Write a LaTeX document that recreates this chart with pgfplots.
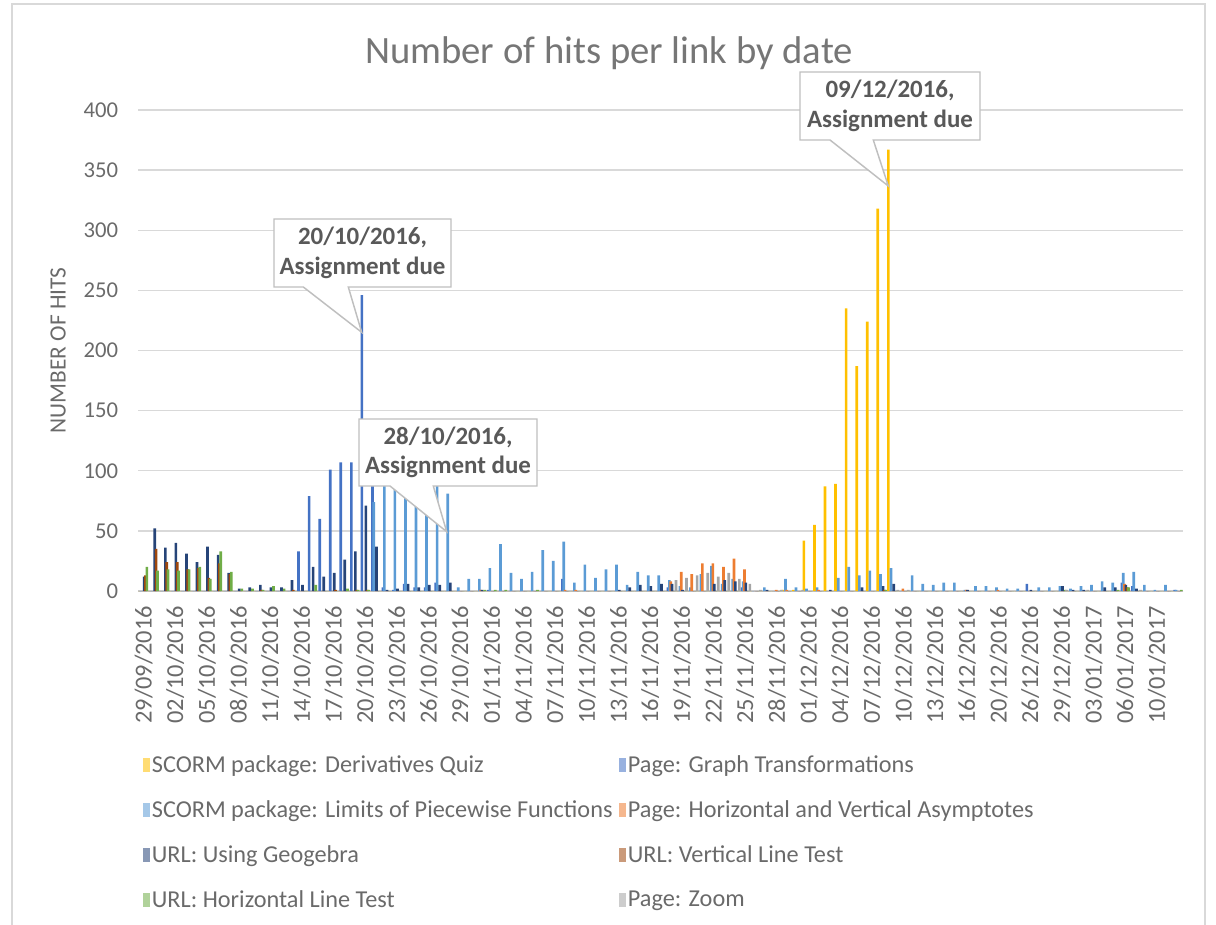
\documentclass[border=0pt]{standalone}
\usepackage{pgfplots}
\pgfplotsset{compat=1.18}
\usepackage{pgfplotstable}
\usepackage{fontspec}
\setmainfont{Carlito}

\definecolor{txt}{HTML}{6A6A6A}
\definecolor{ttl}{HTML}{767676}
\definecolor{ctx}{HTML}{595959}
\definecolor{gridc}{HTML}{D9D9D9}
\definecolor{boxc}{HTML}{BFBFBF}
\definecolor{cY}{HTML}{FFC000}
\definecolor{cB}{HTML}{4472C4}
\definecolor{cL}{HTML}{5B9BD5}
\definecolor{cO}{HTML}{ED7D31}
\definecolor{cN}{HTML}{264478}
\definecolor{cR}{HTML}{9E480E}
\definecolor{cG}{HTML}{70AD47}
\definecolor{cZ}{HTML}{A5A5A5}

% hits per day, one column per link (x = day index, only days with hits)
\pgfplotstableread{
x  Y   B   L   O  N  R  G  Z
0  0   0   0   0  12 13 20 0
1  0   0   0   0  52 35 17 0
2  0   0   0   0  36 24 18 0
3  0   0   0   0  40 24 17 0
4  0   0   0   0  31 18 18 0
5  0   0   0   0  24 19 20 0
6  0   0   0   0  37 11 10 0
7  0   0   0   0  30 23 33 0
8  0   0   0   0  15 14 16 0
9  0   0   0   0  2  0  2  0
10 0   0   0   0  3  0  2  0
11 0   0   0   0  5  1  1  0
12 0   0   0   0  3  0  4  0
13 0   0   0   0  3  0  2  0
14 0   0   0   0  9  1  0  0
15 0   33  0   0  5  0  0  0
16 0   79  0   0  20 0  5  0
17 0   60  0   0  12 0  0  0
18 0   101 0   0  15 1  0  0
19 0   107 0   0  26 0  2  0
20 0   107 0   0  33 1  1  0
21 0   246 0   0  71 1  1  0
22 0   92  74  0  37 0  0  0
23 0   3   100 0  1  0  0  0
24 0   1   95  0  2  0  0  0
25 0   6   92  0  6  0  0  0
26 0   3   90  0  3  0  0  0
27 0   3   90  0  5  0  0  0
28 0   7   93  0  5  0  0  0
29 0   0   81  0  7  0  0  0
30 0   0   3   0  0  0  0  0
31 0   0   10  0  0  0  0  0
32 0   0   10  1  1  0  1  0
33 0   1   19  0  0  0  1  0
34 0   0   39  0  0  0  1  0
35 0   0   15  0  0  0  0  0
36 0   0   10  0  0  0  0  0
37 0   0   16  0  0  0  1  0
38 0   0   34  0  0  0  0  0
39 0   0   25  0  0  0  0  0
40 0   10  41  1  0  0  0  0
41 0   0   7   1  0  0  0  0
42 0   0   22  0  0  0  0  0
43 0   0   11  0  0  0  0  0
44 0   0   18  0  0  0  0  0
45 0   0   22  0  1  0  0  0
46 0   0   5   0  3  0  0  0
47 0   0   16  0  5  0  0  0
48 0   0   13  0  4  0  0  0
49 0   0   13  0  6  0  0  0
50 0   3   9   8  6  0  0  9
51 0   0   4   16 1  0  0  11
52 0   0   3   14 0  0  0  13
53 0   0   14  23 0  0  0  15
54 0   0   21  23 6  0  0  12
55 0   0   6   20 9  0  0  15
56 0   0   10  27 8  0  0  10
57 0   3   8   18 7  0  0  6
58 0   0   0   0  0  0  0  1
59 0   0   3   0  1  0  0  0
60 0   0   0   1  0  0  0  1
61 1   0   10  1  0  0  0  0
62 1   0   3   0  0  0  0  1
63 42  0   2   0  0  0  0  0
64 55  0   3   1  0  0  0  0
65 87  0   0   0  1  0  0  0
66 89  0   11  0  0  0  0  0
67 235 0   20  0  0  0  0  0
68 187 0   13  0  3  0  0  0
69 224 0   17  0  0  0  0  0
70 318 0   14  0  4  1  1  0
71 367 0   19  0  6  0  0  1
72 0   0   0   2  0  0  0  1
73 0   0   13  0  0  0  0  0
74 0   0   6   0  0  0  0  0
75 0   0   5   0  0  0  0  0
76 0   0   7   0  0  0  0  0
77 0   0   7   0  0  0  0  0
78 0   0   1   1  1  0  0  0
79 0   0   4   0  0  0  0  0
80 0   0   4   0  0  0  0  0
81 0   0   3   1  0  0  0  0
82 0   0   2   0  0  0  0  0
83 0   0   2   0  0  0  0  0
84 0   6   0   0  1  0  0  0
85 0   0   3   0  0  0  0  0
86 0   0   3   0  0  0  0  0
87 0   0   4   0  4  0  1  1
88 0   0   2   0  1  0  0  0
89 0   0   4   0  1  0  0  1
90 0   0   5   0  0  0  0  0
91 0   0   8   0  3  0  0  0
92 0   0   7   0  3  0  1  0
93 0   7   15  6  5  3  3  0
94 0   4   16  0  2  0  0  1
95 0   0   5   0  0  0  0  0
96 0   0   1   0  0  0  0  0
97 0   0   5   0  0  0  0  0
98 0   1   1   0  0  0  1  0
}\hits

% bar style plus a bordered legend square
\pgfplotsset{
  hb/.style={fill=#1, draw=none,
    legend image post style={fill=#1!55!white, draw=#1!80!black, line width=0.8pt}},
}

\begin{document}
\begin{tikzpicture}
\useasboundingbox (0,0) rectangle (912pt,-693pt);
\begin{axis}[
    at={(103.725pt,-443.25pt)}, anchor=south west,
    scale only axis, width=783.75pt, height=360.75pt,
    xmin=-0.5, xmax=98.5, ymin=0, ymax=400,
    ybar, bar width=2pt,
    axis line style={draw=none},
    major tick length=0pt,
    ytick={0,50,...,400},
    ymajorgrids, grid style={gridc, line width=1.1pt},
    extra y ticks={0}, extra y tick labels={},
    extra y tick style={grid style={gridc!80!gray, line width=1.6pt}},
    xtick={0,3,...,96},
    xticklabels={29/09/2016,02/10/2016,05/10/2016,08/10/2016,11/10/2016,14/10/2016,
      17/10/2016,20/10/2016,23/10/2016,26/10/2016,29/10/2016,01/11/2016,04/11/2016,
      07/11/2016,10/11/2016,13/11/2016,16/11/2016,19/11/2016,22/11/2016,25/11/2016,
      28/11/2016,01/12/2016,04/12/2016,07/12/2016,10/12/2016,13/12/2016,16/12/2016,
      20/12/2016,26/12/2016,29/12/2016,03/01/2017,06/01/2017,10/01/2017},
    /pgf/number format/assume math mode=true,
    tick label style={font=\fontsize{17}{20}\selectfont, text=txt},
    x tick label style={rotate=90, anchor=east, inner sep=0pt,
      font=\fontsize{18.3}{21}\selectfont},
    xticklabel shift=11pt,
    y tick label style={anchor=east, inner sep=0pt},
    yticklabel shift=15pt,
    ylabel={NUMBER OF HITS},
    ylabel style={at={(axis description cs:-0.0768,0.5)}, anchor=center, rotate=0,
      font=\fontsize{17.5}{20}\selectfont, text=txt},
    legend columns=2,
    legend cell align=left,
    legend image code/.code={\path[#1] (0pt,-5pt) rectangle (5.5pt,5.5pt);},
    legend style={at={(axis description cs:0.0,-0.333)}, anchor=north west,
      draw=none, fill=none, font=\fontsize{18.2}{21}\selectfont, text=txt,
      row sep=16.5pt, nodes={inner sep=1.5pt},
      /tikz/every even column/.append style={column sep=3pt}},
]
\addplot[hb=cY, bar shift=-3.5pt] table[x=x, y=Y] {\hits};
\addlegendentry{SCORM package: Derivatives Quiz}
\addplot[hb=cB, bar shift=-2.5pt] table[x=x, y=B] {\hits};
\addlegendentry{Page: Graph Transformations}
\addplot[hb=cL, bar shift=-1.5pt] table[x=x, y=L] {\hits};
\addlegendentry{SCORM package: Limits of Piecewise Functions}
\addplot[hb=cO, bar shift=-0.5pt] table[x=x, y=O] {\hits};
\addlegendentry{Page: Horizontal and Vertical Asymptotes}
\addplot[hb=cN, bar shift=0.5pt] table[x=x, y=N] {\hits};
\addlegendentry{URL: Using Geogebra}
\addplot[hb=cR, bar shift=1.5pt] table[x=x, y=R] {\hits};
\addlegendentry{URL: Vertical Line Test}
\addplot[hb=cG, bar shift=2.5pt] table[x=x, y=G] {\hits};
\addlegendentry{URL: Horizontal Line Test}
\addplot[hb=cZ, bar shift=3.5pt] table[x=x, y=Z] {\hits};
\addlegendentry{Page: Zoom}
\end{axis}

\begin{scope}[x=0.75pt, y=-0.75pt]
  % chart frame
  \draw[gridc, line width=1pt] (12,930) -- (12,4) -- (1205,4) -- (1205,930);
  % title
  \node[font=\fontsize{29}{34}\selectfont, text=ttl] at (609,53) {Number of hits per link by date};
  % callouts
  \tikzset{callout/.style={fill=white, draw=boxc, line width=1.1pt, line join=miter}}
  \tikzset{ctext/.style={font=\bfseries\fontsize{18.7}{22}\selectfont, text=ctx, align=center}}
  \draw[callout] (274,219) -- (451,219) -- (451,287) -- (348.3,287) -- (361.7,332.3)
     -- (303.3,287) -- (274,287) -- cycle;
  \node[ctext] at (362.5,253) {20/10/2016,\\Assignment due};
  \draw[callout] (359,419) -- (537,419) -- (537,486) -- (433.3,486) -- (446.7,531.7)
     -- (390,486) -- (359,486) -- cycle;
  \node[ctext] at (448,452.5) {28/10/2016,\\Assignment due};
  \draw[callout] (800,72) -- (980,72) -- (980,140) -- (873.3,140) -- (888.3,186)
     -- (830,140) -- (800,140) -- cycle;
  \node[ctext] at (890,106) {09/12/2016,\\Assignment due};
\end{scope}
\end{tikzpicture}
\end{document}
